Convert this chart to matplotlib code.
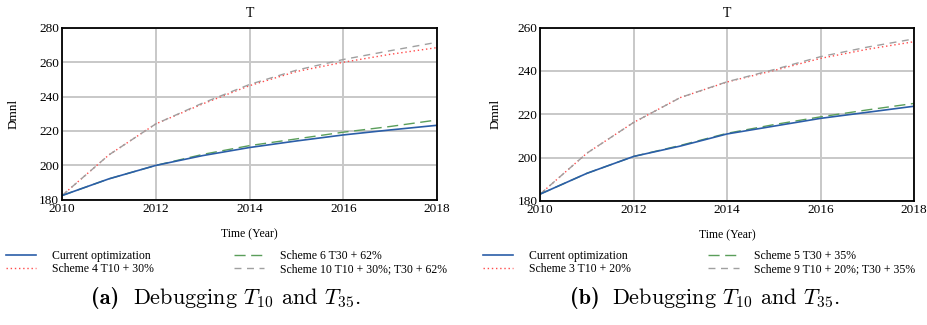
import numpy as np
import matplotlib.pyplot as plt
from matplotlib.lines import Line2D

years = [2010, 2011, 2012, 2013, 2014, 2015, 2016, 2017, 2018]

# panel (a)
a_current = [182.5, 192.2, 200.0, 205.7, 210.4, 214.2, 217.7, 220.6, 223.3]
a_scheme6 = [182.5, 192.2, 200.0, 206.4, 211.5, 215.4, 219.3, 222.6, 226.4]
a_scheme4 = [182.5, 206.1, 224.1, 235.7, 246.3, 254.5, 259.9, 264.5, 268.4]
a_scheme10 = [182.5, 206.1, 224.1, 236.2, 247.0, 255.3, 261.5, 266.6, 271.5]
a_labels = ["Current optimization", "Scheme 4 T10 + 30%",
            "Scheme 6 T30 + 62%", "Scheme 10 T10 + 30%; T30 + 62%"]

# panel (b)
b_current = [183.1, 192.7, 200.5, 205.3, 210.9, 214.5, 218.1, 220.9, 223.7]
b_scheme5 = [183.1, 192.7, 200.5, 205.6, 211.2, 215.2, 218.8, 222.0, 225.0]
b_scheme3 = [183.1, 202.0, 216.2, 227.7, 234.9, 240.2, 245.8, 250.0, 253.5]
b_scheme9 = [183.1, 202.0, 216.2, 227.7, 235.0, 240.6, 246.6, 251.0, 254.8]
b_labels = ["Current optimization", "Scheme 3 T10 + 20%",
            "Scheme 5 T30 + 35%", "Scheme 9 T10 + 20%; T30 + 35%"]

plt.rcParams['font.family'] = ['Liberation Serif', 'DejaVu Serif']
plt.rcParams['mathtext.fontset'] = 'cm'

styles = [
    dict(color='#2b5ea8', lw=1.2, ls='-'),
    dict(color='#ff4a4a', lw=1.0, ls=(0, (1, 2))),
    dict(color='#5a9e5a', lw=1.0, ls=(0, (8, 4))),
    dict(color='#a0a0a0', lw=1.0, ls=(0, (5, 4))),
]

fig = plt.figure(figsize=(9.28, 3.25), dpi=100)


def panel(rect, series, labels, ylim, yticks, leg_x, col_sp, cap_x, tag, ylpad):
    ax = fig.add_axes(rect)
    order = [0, 2, 3, 1]
    for i in order[::-1]:
        ax.plot(years, series[i], **styles[i])
    ax.set_xlim(2010, 2018)
    ax.set_ylim(*ylim)
    ax.set_xticks([2010, 2012, 2014, 2016, 2018])
    ax.set_yticks(yticks)
    ax.grid(True, color='#c8c8c8', lw=1.4)
    ax.set_axisbelow(True)
    ax.tick_params(length=0, labelsize=9.5, pad=2)
    for s in ax.spines.values():
        s.set_linewidth(1.3)
    ax.set_title("T", fontsize=10, pad=8)
    ax.set_ylabel("Dmnl", fontsize=9.5, labelpad=ylpad)
    ax.set_xlabel("Time (Year)", fontsize=8.5, labelpad=10)
    handles = [Line2D([], [], **styles[i]) for i in range(4)]
    fig.legend(handles, labels, loc='upper left', bbox_to_anchor=(leg_x, 0.23),
               ncol=2, frameon=False, fontsize=8.5, handlelength=2.6,
               handletextpad=1.3, columnspacing=col_sp, labelspacing=0.05,
               borderaxespad=0, borderpad=0)
    fig.text(cap_x, 0.065, tag, fontsize=16, fontfamily='cmb10', ha='left')
    fig.text(cap_x + 0.045, 0.065, r"Debugging $T_{10}$ and $T_{35}$.",
             fontsize=16, fontfamily='cmr10', ha='left')


panel([0.0668, 0.385, 0.4042, 0.53], [a_current, a_scheme4, a_scheme6, a_scheme10],
      a_labels, (180, 280), [180, 200, 220, 240, 260, 280], 0.006, 6.8, 0.098, "(a)", 14)
panel([0.582, 0.382, 0.403, 0.533], [b_current, b_scheme3, b_scheme5, b_scheme9],
      b_labels, (180, 260), [180, 200, 220, 240, 260], 0.520, 6.6, 0.614, "(b)", 11)

fig.savefig("out.png", dpi=100)
